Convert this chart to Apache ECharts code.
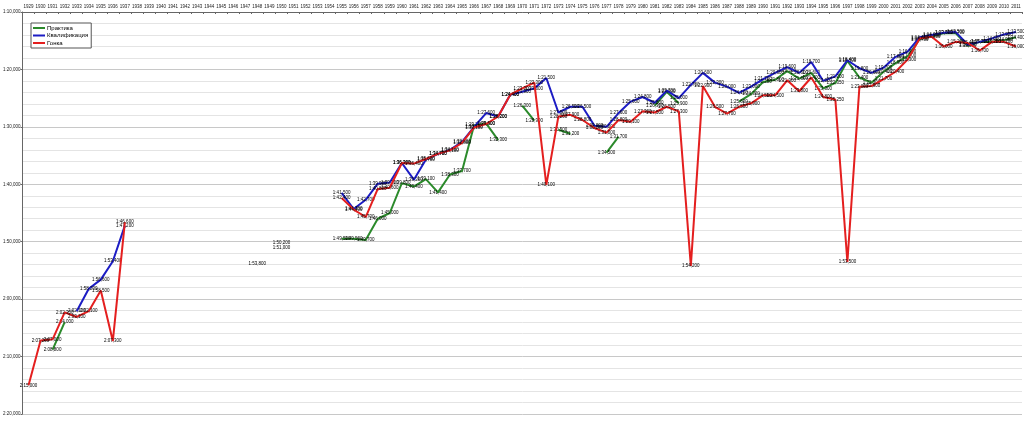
<!DOCTYPE html>
<html>
<head>
<meta charset="utf-8">
<script src="https://cdn.jsdelivr.net/npm/echarts@6/dist/echarts.min.js"></script>
<style>html,body{margin:0;padding:0;background:#fff}#c{width:1024px;height:421px}</style>
</head>
<body>
<div id="c"></div>
<script>
var years = ['1929','1930','1931','1932','1933','1934','1935','1936','1937','1938','1939','1940','1941','1942','1943','1944','1945','1946','1947','1948','1949','1950','1951','1952','1953','1954','1955','1956','1957','1958','1959','1960','1961','1962','1963','1964','1965','1966','1967','1968','1969','1970','1971','1972','1973','1974','1975','1976','1977','1978','1979','1980','1981','1982','1983','1984','1985','1986','1987','1988','1989','1990','1991','1992','1993','1994','1995','1996','1997','1998','1999','2000','2001','2002','2003','2004','2005','2006','2007','2008','2009','2010','2011'];

var seriesNames = ['Практика', 'Квалификация', 'Гонка'];

// [year, lap time in seconds]
var practice = [
  ['1931',128.8],['1932',124.0],
  ['1955',109.5],['1956',109.5],['1957',109.7],['1958',106.0],['1959',105.0],['1960',99.8],['1961',100.4],['1962',99.1],['1963',101.4],['1964',98.3],['1965',97.7],['1966',89.7],['1967',89.4],['1968',92.3],
  ['1970',86.3],['1971',88.9],
  ['1973',90.5],['1974',91.2],
  ['1977',94.5],['1978',91.7],
  ['1981',86.3],['1982',83.9],['1983',85.9],
  ['1988',85.6],['1989',84.3],['1990',82.2],['1991',81.8],['1992',80.3],['1993',81.6],['1994',80.6],['1995',83.3],['1996',82.35],['1997',78.5],['1998',81.4],['1999',82.3],['2000',80.4],['2001',78.9],['2002',77.7],['2003',74.75],['2004',74.2],['2005',73.7],['2006',73.7],['2007',75.9],['2008',75.2],['2009',75.2],['2010',74.9],['2011',74.4]
];
var qualifying = [
  ['1933',122.1],['1934',118.2],['1935',116.6],['1936',113.4],['1937',107.2],
  ['1950',110.2],
  ['1955',101.5],['1956',104.3],['1957',102.7],['1958',99.9],['1959',99.7],['1960',96.3],['1961',99.2],['1962',95.7],['1963',94.7],['1964',94.0],['1965',92.6],['1966',90.0],['1967',87.6],['1968',88.2],['1969',84.4],['1970',83.9],['1971',83.3],['1972',81.5],['1973',87.5],['1974',86.5],['1975',86.5],['1976',89.8],['1977',90.0],['1978',87.6],['1979',85.6],['1980',84.8],['1981',85.8],['1982',83.7],['1983',85.0],['1984',82.7],['1985',80.6],['1986',82.3],['1987',83.0],['1988',84.1],['1989',83.0],['1990',81.7],['1991',80.6],['1992',79.6],['1993',80.6],['1994',78.7],['1995',82.0],['1996',81.2],['1997',78.4],['1998',79.8],['1999',80.6],['2000',79.7],['2001',77.8],['2002',76.9],['2003',74.4],['2004',74.0],['2005',73.6],['2006',73.5],['2007',75.7],['2008',75.2],['2009',74.6],['2010',73.9],['2011',73.5]
];
var race = [
  ['1929',135.0],['1930',127.2],['1931',127.0],['1932',122.3],['1933',123.1],['1934',122.1],['1935',118.5],['1936',127.3],['1937',106.6],
  ['1948',113.8],['1950',111.0],
  ['1955',102.4],['1956',104.4],['1957',105.7],['1958',100.8],['1959',100.6],['1960',96.3],['1961',96.4],['1962',95.6],['1963',94.7],['1964',94.1],['1965',92.8],['1966',90.1],['1967',89.5],['1968',88.2],['1969',84.4],['1970',83.3],['1971',82.3],['1972',100.1],['1973',88.2],['1974',87.9],['1975',88.8],['1976',90.2],['1977',91.0],['1978',88.8],['1979',89.1],['1980',87.3],['1981',87.5],['1982',86.5],['1983',87.3],['1984',114.2],['1985',82.9],['1986',86.5],['1987',87.7],['1988',86.5],['1989',85.9],['1990',84.5],['1991',84.5],['1992',81.9],['1993',83.8],['1994',81.4],['1995',84.8],['1996',85.25],['1997',113.5],['1998',83.0],['1999',82.9],['2000',81.7],['2001',80.4],['2002',78.3],['2003',74.6],['2004',74.3],['2005',76.0],['2006',75.2],['2007',75.4],['2008',76.7],['2009',75.2],['2010',75.2],['2011',76.0]
];

var colors = ['#2b8a2b', '#1c1cc4', '#e41f1f'];

function align(pairs) {
  var m = {};
  pairs.forEach(function (p) { m[p[0]] = p[1]; });
  return years.map(function (y) { return (y in m) ? m[y] : null; });
}
function fmtTime(t) {
  var ms = Math.round(t * 1000);
  var m = Math.floor(ms / 60000);
  var rest = ms - m * 60000;
  var s = Math.floor(rest / 1000);
  var f = rest - s * 1000;
  return m + ':' + (s < 10 ? '0' : '') + s + ',' + ('00' + f).slice(-3);
}

var font = 'Liberation Sans, Arial, sans-serif';
var allData = [practice, qualifying, race];

var chart = echarts.init(document.getElementById('c'), null, {renderer: 'canvas'});
chart.setOption({
  animation: false,
  backgroundColor: '#fff',
  grid: {left: 22, right: 2, top: 12, bottom: 7, containLabel: false},
  legend: {
    orient: 'vertical', left: 31, top: 23,
    data: seriesNames,
    icon: 'rect', itemWidth: 12, itemHeight: 2, itemGap: 1.5,
    padding: [2, 3, 2, 2],
    borderColor: '#555', borderWidth: 1, backgroundColor: '#fff',
    textStyle: {fontSize: 6, fontFamily: font, color: '#000', padding: [0, 0, 0, -3]}
  },
  xAxis: {
    type: 'category', position: 'top', data: years, boundaryGap: true,
    axisLine: {lineStyle: {color: '#666', width: 1}},
    axisTick: {show: true, inside: true, length: 2, lineStyle: {color: '#666'}},
    axisLabel: {interval: 0, fontSize: 4.5, fontFamily: font, color: '#222', margin: 3},
    splitLine: {show: false}
  },
  yAxis: {
    type: 'value', inverse: true, min: 70, max: 140, interval: 10,
    axisLine: {show: true, lineStyle: {color: '#666'}},
    axisTick: {show: true, length: 2, lineStyle: {color: '#666'}},
    axisLabel: {fontSize: 4.5, fontFamily: font, color: '#222', margin: 2,
      formatter: function (v) { return fmtTime(v); }},
    splitLine: {show: true, lineStyle: {color: '#c8c8c8', width: 1}},
    minorTick: {show: false, splitNumber: 5},
    minorSplitLine: {show: true, lineStyle: {color: '#e4e4e4', width: 1}}
  },
  series: seriesNames.map(function (name, k) {
    return {
      name: name, type: 'line', data: align(allData[k]),
      connectNulls: false,
      symbol: 'circle', symbolSize: 0, showSymbol: true,
      lineStyle: {color: colors[k], width: 2},
      itemStyle: {color: colors[k]},
      label: {show: true, position: 'inside', fontSize: 4.5, fontFamily: font, color: '#000',
        formatter: function (p) { return fmtTime(p.value); }},
      emphasis: {disabled: true},
      z: 2 + k
    };
  })
});
</script>
</body>
</html>
